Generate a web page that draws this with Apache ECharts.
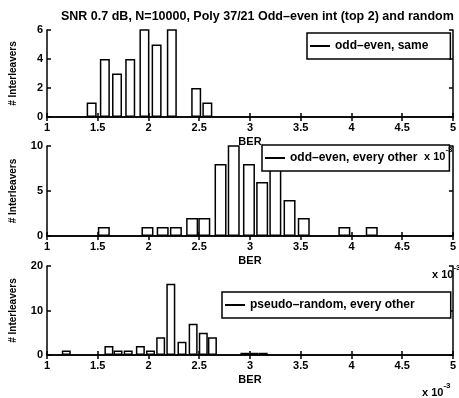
<!DOCTYPE html>
<html>
<head>
<meta charset="utf-8">
<script src="https://cdn.jsdelivr.net/npm/echarts@6/dist/echarts.min.js"></script>
<style>
  html, body { margin: 0; padding: 0; background: #fff; }
  #chart { width: 459px; height: 398px; }
</style>
</head>
<body>
<div id="chart"></div>
<script>
// BER values (x 10^-3) and number of interleavers per histogram bin
var sameBer = [1.44, 1.57, 1.69, 1.82, 1.96, 2.08, 2.23, 2.47, 2.58];
var sameCount = [1, 4, 3, 4, 7, 5, 7, 2, 1];

var everyBer = [1.56, 1.99, 2.14, 2.27, 2.43, 2.55, 2.71, 2.84, 2.99, 3.12, 3.25, 3.39, 3.53, 3.93, 4.2];
var everyCount = [1, 1, 1, 1, 2, 2, 8, 11, 8, 6, 9, 4, 2, 1, 1];

var randBer = [1.19, 1.61, 1.70, 1.80, 1.92, 2.02, 2.12, 2.22, 2.33, 2.44, 2.54, 2.63, 2.95, 3.04, 3.13];
var randCount = [1, 2, 1, 1, 2, 1, 4, 16, 3, 7, 5, 4, 0.5, 0.5, 0.5];

var names = ['odd–even, same', 'odd–even, every other', 'pseudo–random, every other'];
var yMax = [6, 10, 20];
var yStep = [2, 5, 10];

var font = '"Liberation Sans", Arial, sans-serif';

var myChart = echarts.init(document.getElementById('chart'));

function pairs(xs, ys) {
  var out = [];
  for (var i = 0; i < xs.length; i++) out.push([xs[i], ys[i]]);
  return out;
}

var grids = [
  { left: 43, right: 2, top: 30, height: 87 },
  { left: 43, right: 2, top: 146, height: 90 },
  { left: 43, right: 2, top: 266, height: 89 }
];

var xAxes = [];
var yAxes = [];
for (var g = 0; g < 3; g++) {
  xAxes.push({
    type: 'value', gridIndex: g, min: 1, max: 5, interval: 0.5,
    name: 'BER', nameLocation: 'middle', nameGap: 19,
    nameTextStyle: { color: '#000', fontFamily: font, fontWeight: 'bold', fontSize: 11 },
    axisLine: { lineStyle: { color: '#000', width: 1.5 } },
    axisTick: { inside: true, length: 4, lineStyle: { color: '#000', width: 1.5 } },
    axisLabel: { color: '#000', fontFamily: font, fontWeight: 'bold', fontSize: 11, margin: 5 },
    splitLine: { show: false }
  });
  yAxes.push({
    type: 'value', gridIndex: g, min: 0, max: yMax[g], interval: yStep[g],
    name: '# Interleavers', nameLocation: 'middle', nameGap: 29, nameRotate: 90,
    nameTextStyle: { color: '#000', fontFamily: font, fontWeight: 'bold', fontSize: 10 },
    axisLine: { lineStyle: { color: '#000', width: 1.5 } },
    axisTick: { inside: true, length: 4, lineStyle: { color: '#000', width: 1.5 } },
    axisLabel: { color: '#000', fontFamily: font, fontWeight: 'bold', fontSize: 11, margin: 4 },
    splitLine: { show: false }
  });
}
// box: top and right axes, ticks only
for (var g = 0; g < 3; g++) {
  xAxes.push({
    type: 'value', gridIndex: g, min: 1, max: 5, interval: 0.5, position: 'top',
    axisLine: { lineStyle: { color: '#000', width: 1.5 } },
    axisTick: { inside: true, length: 4, lineStyle: { color: '#000', width: 1.5 } },
    axisLabel: { show: false }, splitLine: { show: false }
  });
  yAxes.push({
    type: 'value', gridIndex: g, min: 0, max: yMax[g], interval: yStep[g], position: 'right',
    axisLine: { lineStyle: { color: '#000', width: 1.5 } },
    axisTick: { inside: true, length: 4, lineStyle: { color: '#000', width: 1.5 } },
    axisLabel: { show: false }, splitLine: { show: false }
  });
}

var dataSets = [pairs(sameBer, sameCount), pairs(everyBer, everyCount), pairs(randBer, randCount)];
var widths = [10, 12, 9];
var series = [];
for (var g = 0; g < 3; g++) {
  series.push({
    name: names[g], type: 'bar', xAxisIndex: g, yAxisIndex: g,
    data: dataSets[g], barWidth: widths[g], clip: true,
    itemStyle: { color: '#fff', borderColor: '#000', borderWidth: 1.5 },
    emphasis: { disabled: true }
  });
}

var legendPos = [
  { left: 307, top: 33, pr: 22 },
  { left: 262, top: 145, pr: 32 },
  { left: 222, top: 292, pr: 36 }
];
var legends = [];
for (var g = 0; g < 3; g++) {
  legends.push({
    data: [names[g]], left: legendPos[g].left, top: legendPos[g].top,
    padding: [7, legendPos[g].pr, 7, 3],
    backgroundColor: '#fff', borderColor: '#000', borderWidth: 1.5, borderRadius: 0,
    icon: 'rect', itemWidth: 20, itemHeight: 2,
    itemStyle: { color: '#000', borderWidth: 0 },
    textStyle: { color: '#000', fontFamily: font, fontWeight: 'bold', fontSize: 12 },
    selectedMode: false
  });
}

function expText(x, y) {
  return {
    type: 'text', left: x, top: y, z: 10,
    style: {
      text: '{b|x 10}{s|-3}',
      rich: {
        b: { fontFamily: font, fontWeight: 'bold', fontSize: 11, fill: '#000', verticalAlign: 'bottom' },
        s: { fontFamily: font, fontWeight: 'bold', fontSize: 8, fill: '#000', verticalAlign: 'top', padding: [0, 0, 8, 0] }
      }
    }
  };
}

var option = {
  backgroundColor: '#fff',
  animation: false,
  title: {
    text: 'SNR 0.7 dB, N=10000, Poly 37/21 Odd–even int (top 2) and random',
    left: 56, top: 5,
    textStyle: { color: '#000', fontFamily: font, fontWeight: 'bold', fontSize: 12.5 }
  },
  legend: legends,
  grid: grids,
  xAxis: xAxes,
  yAxis: yAxes,
  series: series,
  graphic: [expText(424, 146), expText(432, 264), expText(422, 382)]
};

myChart.setOption(option);
</script>
</body>
</html>
